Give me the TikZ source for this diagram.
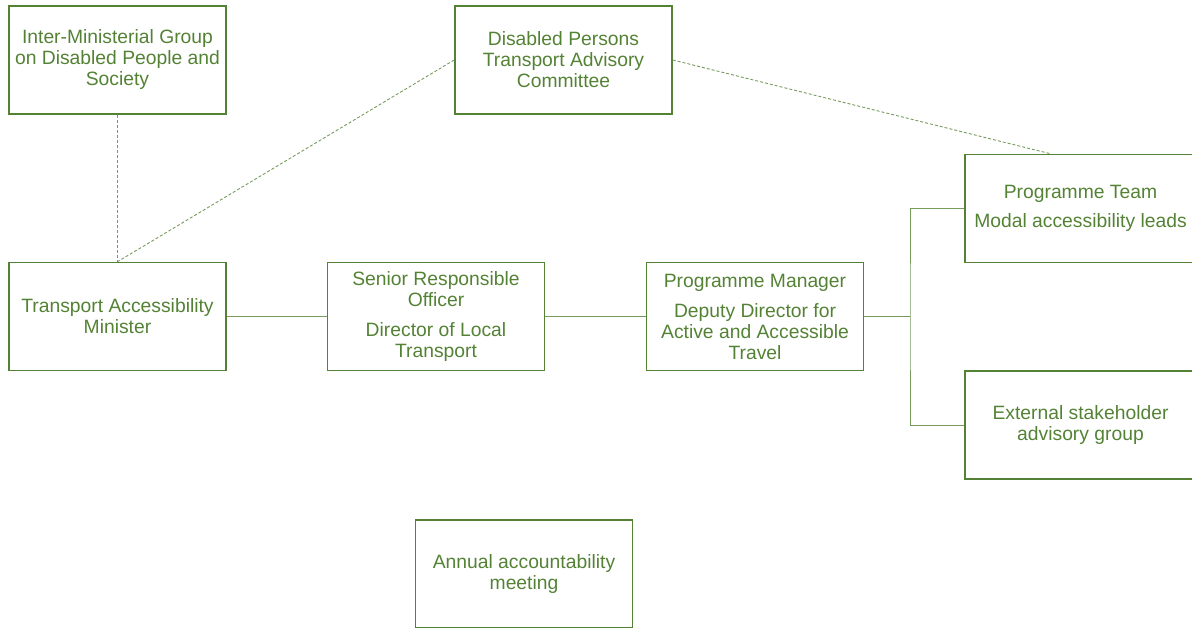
\documentclass[tikz,border=0pt]{standalone}
\usepackage{fontspec}
\setmainfont{Liberation Sans}
\usetikzlibrary{positioning,calc}

\definecolor{govgreen}{RGB}{84,130,53}

\begin{document}
\begin{tikzpicture}[
        x=1pt,y=-1pt,
        font=\fontsize{19.3}{21}\selectfont,
        every edge/.append style={draw=govgreen!80,line width=0.9pt}
    ]

    \tikzstyle{block} = [rectangle,draw=govgreen,line width=1.6pt,text=govgreen,
        minimum width=217pt,minimum height=108pt,align=center,inner sep=0pt]
    \tikzstyle{link} = [draw=govgreen!80,line width=0.9pt]
    \tikzstyle{loose} = [draw=govgreen!80,line width=0.9pt,dash pattern=on 3pt off 2pt]

    \useasboundingbox (0,0) rectangle (1192,627);

    \node[block] (img) at (117.5,60) {Inter-Ministerial Group\\on Disabled People and\\Society};
    \node[block] (dptac) at (563.5,60) {Disabled Persons\\Transport Advisory\\Committee};
    \node[block] (minister) at (117.5,316.5) {Transport Accessibility\\Minister};
    \node[block] (sro) at (436,316.5) {Senior Responsible\\Officer\\[9pt]Director of Local\\Transport};
    \node[block] (pm) at (755,316.5) {Programme Manager\\[9pt]Deputy Director for\\Active and Accessible\\Travel};
    \node[block,minimum width=231pt] (team) at (1080.5,208.5) {Programme Team\\[8pt]Modal accessibility leads};
    \node[block,minimum width=231pt] (extgroup) at (1080.5,425) {External stakeholder\\advisory group};
    \node[block] (annual) at (524,574) {Annual accountability\\meeting};

    \coordinate (fork) at (910,316.5);

    % advisory links
    \draw[loose] (img) -- (minister);
    \draw[loose] (dptac.west) -- (minister.north);
    \draw[loose] (dptac.east) -- ($(team.north west)!0.37!(team.north east)$);

    % line of reporting
    \path
        (minister) edge (sro)
        (sro)      edge (pm)
        (pm)       edge (fork)
    ;
    \draw[link] (team.west) -| (fork) |- (extgroup.west);

\end{tikzpicture}
\end{document}
